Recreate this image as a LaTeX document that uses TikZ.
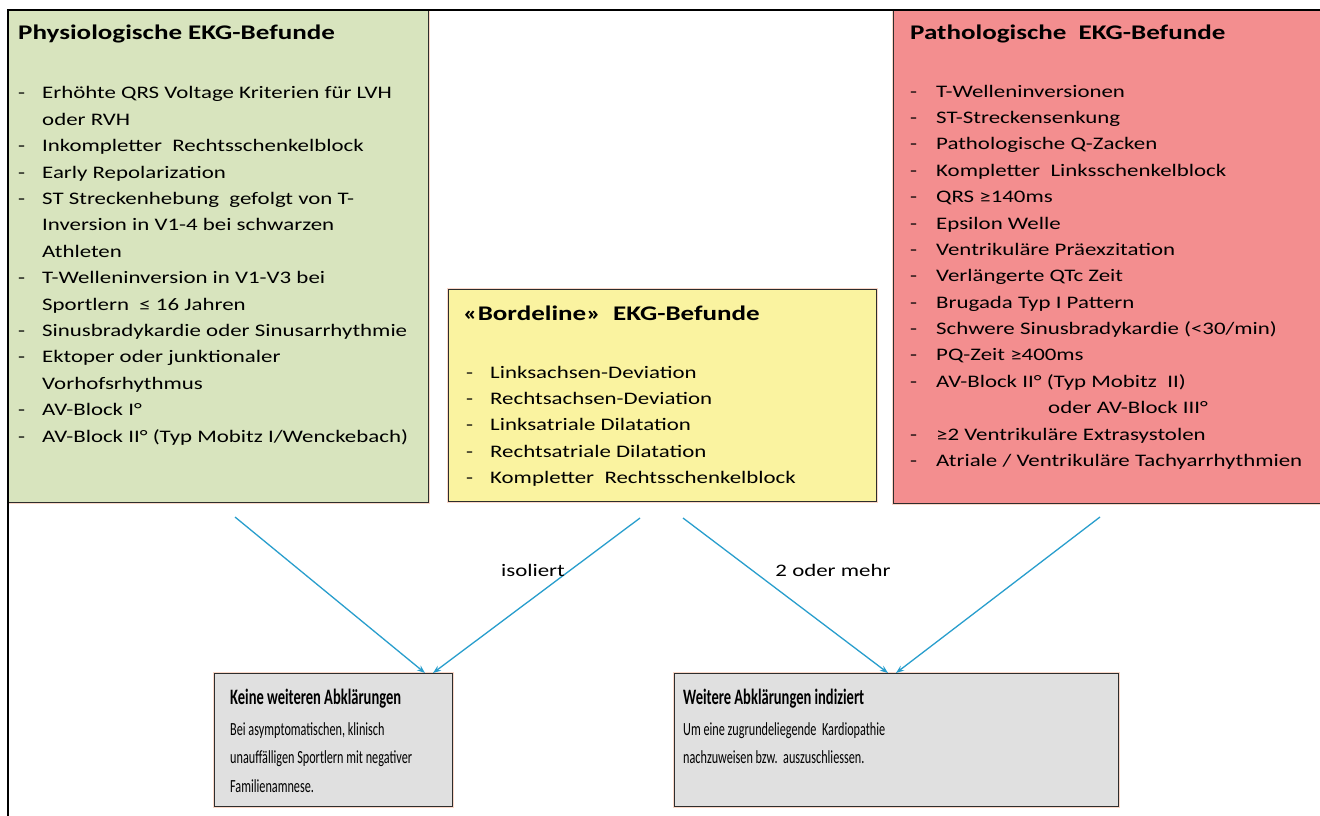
\documentclass[tikz,border=0pt]{standalone}
\usepackage{fontspec}
\setmainfont{Carlito}[FakeStretch=1.3]
\newfontfamily\condfont[FakeStretch=0.66]{Carlito}
\usetikzlibrary{arrows.meta}
\definecolor{physfill}{RGB}{216,228,190}
\definecolor{bordfill}{RGB}{250,243,160}
\definecolor{pathfill}{RGB}{243,142,143}
\definecolor{greyfill}{RGB}{224,224,224}
\definecolor{boxline}{RGB}{45,45,45}
\definecolor{arrowblue}{RGB}{40,158,205}
\definecolor{halo}{RGB}{250,215,200}
\newcommand{\titlef}{\fontsize{20.8}{25}\selectfont\bfseries}
\newcommand{\itemf}{\fontsize{17.6}{26.4}\selectfont}
\newcommand{\condtitlef}{\condfont\fontsize{22}{26}\selectfont\bfseries}
\newcommand{\condtextf}{\condfont\fontsize{18.5}{28.7}\selectfont}
\tikzset{
  boxstyle/.style={draw=boxline, line width=1.1pt, anchor=north west, inner sep=0pt,
    preaction={draw=halo, line width=3.5pt}},
  txt/.style={anchor=base west, inner sep=0pt, text=black},
  conn/.style={draw=arrowblue, line width=1.3pt, -{Stealth[length=8pt,width=6pt]}},
  lbl/.style={inner sep=0pt, font=\fontsize{17.6}{20}\selectfont}
}
\begin{document}
\begin{tikzpicture}[x=1pt,y=-1pt]
\useasboundingbox (0,0) rectangle (1320,816);
\fill[white] (0,0) rectangle (1320,816);
% boxes
\node[boxstyle, fill=physfill, minimum width=420pt, minimum height=492pt] (phys) at (8,10) {};
\node[boxstyle, fill=bordfill, minimum width=428pt, minimum height=212pt] (bord) at (448,289) {};
\node[boxstyle, fill=pathfill, minimum width=440pt, minimum height=493pt] (path) at (893,10) {};
\node[boxstyle, fill=greyfill, minimum width=238pt, minimum height=133pt] (keine) at (214,673) {};
\node[boxstyle, fill=greyfill, minimum width=444pt, minimum height=133pt] (weiter) at (674,673) {};
% outer frame
\draw[line width=1.2pt, black] (8,816) -- (8,10) -- (1320,10);
% physiological
\node[txt, font=\titlef] (physT) at (18,40) {Physiologische EKG-Befunde};
\node[txt, font=\itemf] (physL) at (18,99) {\begin{tabular}[t]{@{}p{24pt}@{}l@{}}
- & Erhöhte QRS Voltage Kriterien für LVH\\
  & oder RVH\\
- & Inkompletter\ \ Rechtsschenkelblock\\
- & Early Repolarization\\
- & ST Streckenhebung\ \ gefolgt von T-\\
  & Inversion in V1-4 bei schwarzen\\
  & Athleten\\
- & T-Welleninversion in V1-V3 bei\\
  & Sportlern\ \ ≤ 16 Jahren\\
- & Sinusbradykardie oder Sinusarrhythmie\\
- & Ektoper oder junktionaler\\
  & Vorhofsrhythmus\\
- & AV-Block I°\\
- & AV-Block II° (Typ Mobitz I/Wenckebach)
\end{tabular}};
% borderline
\node[txt, font=\titlef] (bordT) at (463,320) {«Bordeline»\ \ EKG-Befunde};
\node[txt, font=\itemf] (bordL) at (466,378) {\begin{tabular}[t]{@{}p{24pt}@{}l@{}}
- & Linksachsen-Deviation\\
- & Rechtsachsen-Deviation\\
- & Linksatriale Dilatation\\
- & Rechtsatriale Dilatation\\
- & Kompletter\ \ Rechtsschenkelblock
\end{tabular}};
% pathological
\node[txt, font=\titlef] (pathT) at (910,40) {Pathologische\ \ EKG-Befunde};
\node[txt, font=\itemf] (pathL) at (910,97) {\begin{tabular}[t]{@{}p{26pt}@{}l@{}}
- & T-Welleninversionen\\
- & ST-Streckensenkung\\
- & Pathologische Q-Zacken\\
- & Kompletter\ \ Linksschenkelblock\\
- & QRS ≥140ms\\
- & Epsilon Welle\\
- & Ventrikuläre Präexzitation\\
- & Verlängerte QTc Zeit\\
- & Brugada Typ I Pattern\\
- & Schwere Sinusbradykardie (<30/min)\\
- & PQ-Zeit ≥400ms\\
- & AV-Block II° (Typ Mobitz\ \ II)\\
  & \hspace{112pt}oder AV-Block III°\\
- & ≥2 Ventrikuläre Extrasystolen\\
- & Atriale / Ventrikuläre Tachyarrhythmien
\end{tabular}};
% bottom boxes
\node[txt, font=\condtitlef] (keineT) at (230,704) {Keine weiteren Abklärungen};
\node[txt, font=\condtextf] (keineL) at (230,735) {\begin{tabular}[t]{@{}l@{}}
Bei asymptomatischen, klinisch\\
unauffälligen Sportlern mit negativer\\
Familienamnese.
\end{tabular}};
\node[txt, font=\condtitlef] (weiterT) at (683,704) {Weitere Abklärungen indiziert};
\node[txt, font=\condtextf] (weiterL) at (683,735) {\begin{tabular}[t]{@{}l@{}}
Um eine zugrundeliegende\ \ Kardiopathie\\
nachzuweisen bzw.\ \ auszuschliessen.
\end{tabular}};
% connectors
\coordinate (s1) at (235,517);
\coordinate (s2) at (640,518);
\coordinate (s3) at (683,518);
\coordinate (s4) at (1100,517);
\coordinate (e1) at (425,673);
\coordinate (e2) at (433,673);
\coordinate (e3) at (888,673);
\coordinate (e4) at (896,673);
\draw[conn] (s1) -- (e1);
\draw[conn] (s2) -- (e2);
\draw[conn] (s3) -- (e3);
\draw[conn] (s4) -- (e4);
\node[lbl] (iso) at (533,570) {isoliert};
\node[lbl] (mehr) at (833,570) {2 oder mehr};
\end{tikzpicture}
\end{document}
